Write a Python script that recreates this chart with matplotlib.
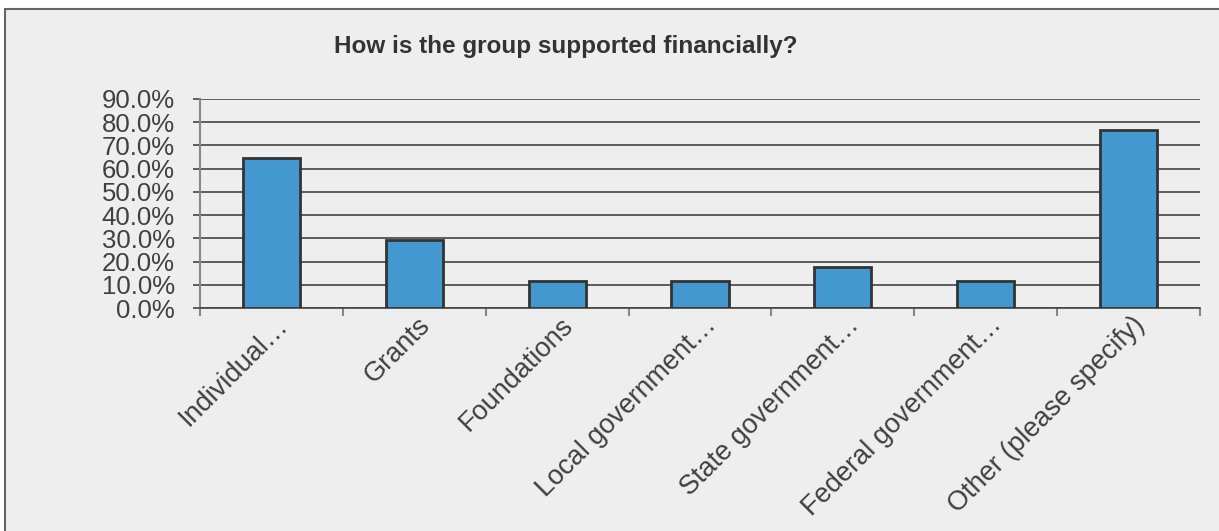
import matplotlib.pyplot as plt
import matplotlib.transforms as mtransforms
from matplotlib.patches import Rectangle
from matplotlib.ticker import FuncFormatter, FixedLocator

# data (percent of respondents)
categories = ['Individual…', 'Grants', 'Foundations', 'Local government…',
              'State government…', 'Federal government…', 'Other (please specify)']
values = [64.7, 29.4, 11.8, 11.8, 17.6, 11.8, 76.5]
title = 'How is the group supported financially?'

plt.rcParams['font.family'] = ['Liberation Sans', 'DejaVu Sans']

fig = plt.figure(figsize=(12.19, 5.31), dpi=100)
fig.patch.set_facecolor('white')

# grey chart panel with border
panel = Rectangle((5 / 1219, -0.05), 1.1, 1 - 9 / 531 + 0.05, transform=fig.transFigure,
                  facecolor='#eeeeee', edgecolor='#666666', linewidth=1.5, zorder=-10)
fig.patches.append(panel)

ax = fig.add_axes([200 / 1219, 1 - 308 / 531, 1000 / 1219, 209 / 531])
ax.set_facecolor('none')

x = list(range(len(categories)))
ax.bar(x, values, width=0.4, color='#4399cf', edgecolor='#333333', linewidth=2, zorder=3)

ax.set_xlim(-0.5, len(categories) - 0.5)
ax.set_ylim(0, 90)
ax.set_yticks(range(0, 91, 10))
ax.yaxis.set_major_formatter(FuncFormatter(lambda v, p: '%.1f%%' % v))
ax.yaxis.grid(True, color='#444444', linewidth=1.2, zorder=1)
ax.tick_params(axis='y', length=5, width=1.2, color='#444444', pad=13,
               labelsize=18.5, labelcolor='#404040')

# category boundaries get the tick marks, labels sit at the centers
ax.set_xticks(x)
ax.set_xticklabels(categories, rotation=45, ha='right', rotation_mode='anchor')
ax.tick_params(axis='x', which='major', length=0, pad=3, labelsize=19.5, labelcolor='#404040')
ax.xaxis.set_minor_locator(FixedLocator([i - 0.5 for i in range(len(categories) + 1)]))
ax.tick_params(axis='x', which='minor', length=6, width=1.5, color='#888888', direction='out')
offset = mtransforms.ScaledTranslation(3 / 100, 0, fig.dpi_scale_trans)
for lbl in ax.get_xticklabels():
    lbl.set_transform(lbl.get_transform() + offset)

for s in ['top', 'right']:
    ax.spines[s].set_visible(False)
ax.spines['left'].set_color('#888888')
ax.spines['left'].set_linewidth(1.5)
ax.spines['bottom'].set_color('#444444')
ax.spines['bottom'].set_linewidth(1.2)

fig.text(566 / 1219, 1 - 47 / 531, title, ha='center', va='center',
         fontsize=17.5, fontweight='bold', color='#333333')

fig.savefig('out.png', dpi=100)
